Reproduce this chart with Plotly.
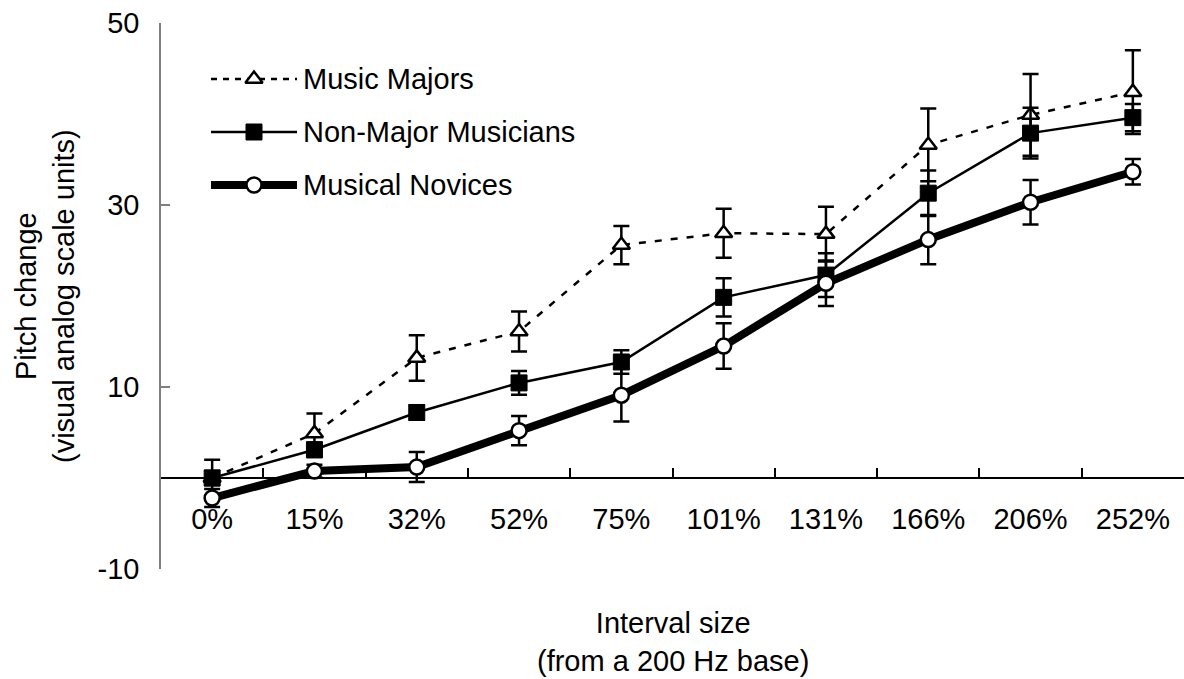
import plotly.graph_objects as go

# Interval sizes (from a 200 Hz base)
intervals = ["0%", "15%", "32%", "52%", "75%", "101%", "131%", "166%", "206%", "252%"]

# Mean pitch change and standard error per group
majors = [0.0, 4.9, 13.2, 16.1, 25.6, 26.9, 26.8, 36.6, 39.9, 42.4]
majors_se = [0.8, 2.2, 2.5, 2.2, 2.1, 2.7, 3.0, 4.0, 4.5, 4.6]

non_majors = [0.0, 3.1, 7.2, 10.45, 12.75, 19.85, 22.3, 31.3, 37.9, 39.6]
non_majors_se = [2.0, 0.8, 0.8, 1.3, 1.3, 2.1, 2.4, 2.5, 2.8, 1.5]

novices = [-2.2, 0.76, 1.2, 5.2, 9.1, 14.5, 21.4, 26.2, 30.3, 33.65]
novices_se = [1.0, 0.7, 1.65, 1.6, 2.9, 2.5, 2.5, 2.7, 2.45, 1.4]

y_ticks = [-10, 10, 30, 50]
y_tick_text = ["-10", "10", "30", "50"]

FONT = "Arial, Liberation Sans, sans-serif"
FS = 29
W, H = 1184, 679
ML, MR, MT, MB = 161, 0, 23, 110

err_style = dict(type="data", thickness=2.5, width=8, color="black")

groups = [
    dict(name="Music Majors", y=majors, se=majors_se,
         line=dict(color="black", width=2.5, dash="7px,9px"),
         legend_dash="6px,6px",
         marker=dict(symbol="triangle-up", size=15, color="white",
                     line=dict(color="black", width=2.5))),
    dict(name="Non-Major Musicians", y=non_majors, se=non_majors_se,
         line=dict(color="black", width=2.5),
         legend_dash="solid",
         marker=dict(symbol="square", size=16, color="black",
                     line=dict(color="black", width=1))),
    dict(name="Musical Novices", y=novices, se=novices_se,
         line=dict(color="black", width=8),
         legend_dash="solid",
         marker=dict(symbol="circle", size=15, color="white",
                     line=dict(color="black", width=2.5))),
]

fig = go.Figure()

for g in groups:
    fig.add_trace(go.Scatter(
        x=intervals, y=g["y"], name=g["name"], mode="lines+markers",
        line=g["line"], marker=g["marker"],
        error_y=dict(array=g["se"], **err_style),
        showlegend=False, cliponaxis=False,
    ))

# Hand-built legend on a pixel-scaled overlay axis pair
legend_rows_y = [79, 132, 185]
sample_x0, sample_x1, text_x = 211, 297, 301
for g, ly in zip(groups, legend_rows_y):
    lw = g["line"]["width"]
    fig.add_trace(go.Scatter(
        x=[sample_x0, sample_x1], y=[ly, ly], mode="lines",
        line=dict(color="black", width=lw, dash=g["legend_dash"]),
        xaxis="x2", yaxis="y2", showlegend=False, hoverinfo="skip",
    ))
    fig.add_trace(go.Scatter(
        x=[(sample_x0 + sample_x1) / 2], y=[ly], mode="markers",
        marker=g["marker"], xaxis="x2", yaxis="y2",
        showlegend=False, hoverinfo="skip",
    ))
    fig.add_annotation(
        x=text_x, y=ly, xref="x2", yref="y2", text=g["name"],
        showarrow=False, xanchor="left", yanchor="middle",
        font=dict(family=FONT, size=FS, color="black"),
    )

plot_w = W - ML - MR
plot_h = H - MT - MB

fig.update_layout(
    width=W, height=H,
    margin=dict(l=ML, r=MR, t=MT, b=MB, pad=0),
    paper_bgcolor="white", plot_bgcolor="white",
    font=dict(family=FONT, size=FS, color="black"),
    xaxis=dict(
        type="category", range=[-0.5, len(intervals) - 0.5],
        anchor="free", position=10 / 60,
        showline=True, linecolor="black", linewidth=2,
        ticks="inside", ticklen=9, tickwidth=1.5, tickcolor="black",
        tickson="boundaries", showgrid=False, zeroline=False,
        tickfont=dict(family=FONT, size=FS, color="black"),
        ticklabelstandoff=15,
    ),
    yaxis=dict(
        range=[-10, 50], tickvals=y_ticks, ticktext=y_tick_text,
        showline=True, linecolor="#808080", linewidth=1.5,
        ticks="inside", ticklen=9, tickwidth=1.5, tickcolor="#808080",
        showgrid=False, zeroline=False,
        tickfont=dict(family=FONT, size=FS, color="black"),
        ticklabelstandoff=14,
    ),
    xaxis2=dict(range=[ML, W - MR], overlaying="x", visible=False,
                anchor="y2"),
    yaxis2=dict(range=[MT + plot_h, MT], overlaying="y", visible=False,
                anchor="x2"),
)

# Axis titles
fig.add_annotation(
    x=-116 / plot_w, y=0.5, xref="paper", yref="paper",
    text="Pitch change<br>(visual analog scale units)",
    textangle=-90, showarrow=False, xanchor="center", yanchor="middle",
    font=dict(family=FONT, size=FS, color="black"),
)
fig.add_annotation(
    x=0.5, y=-(642 - (MT + plot_h)) / plot_h, xref="paper", yref="paper",
    text="Interval size<br>(from a 200 Hz base)",
    showarrow=False, xanchor="center", yanchor="middle",
    font=dict(family=FONT, size=FS, color="black"),
)

fig.write_html("out.html")
